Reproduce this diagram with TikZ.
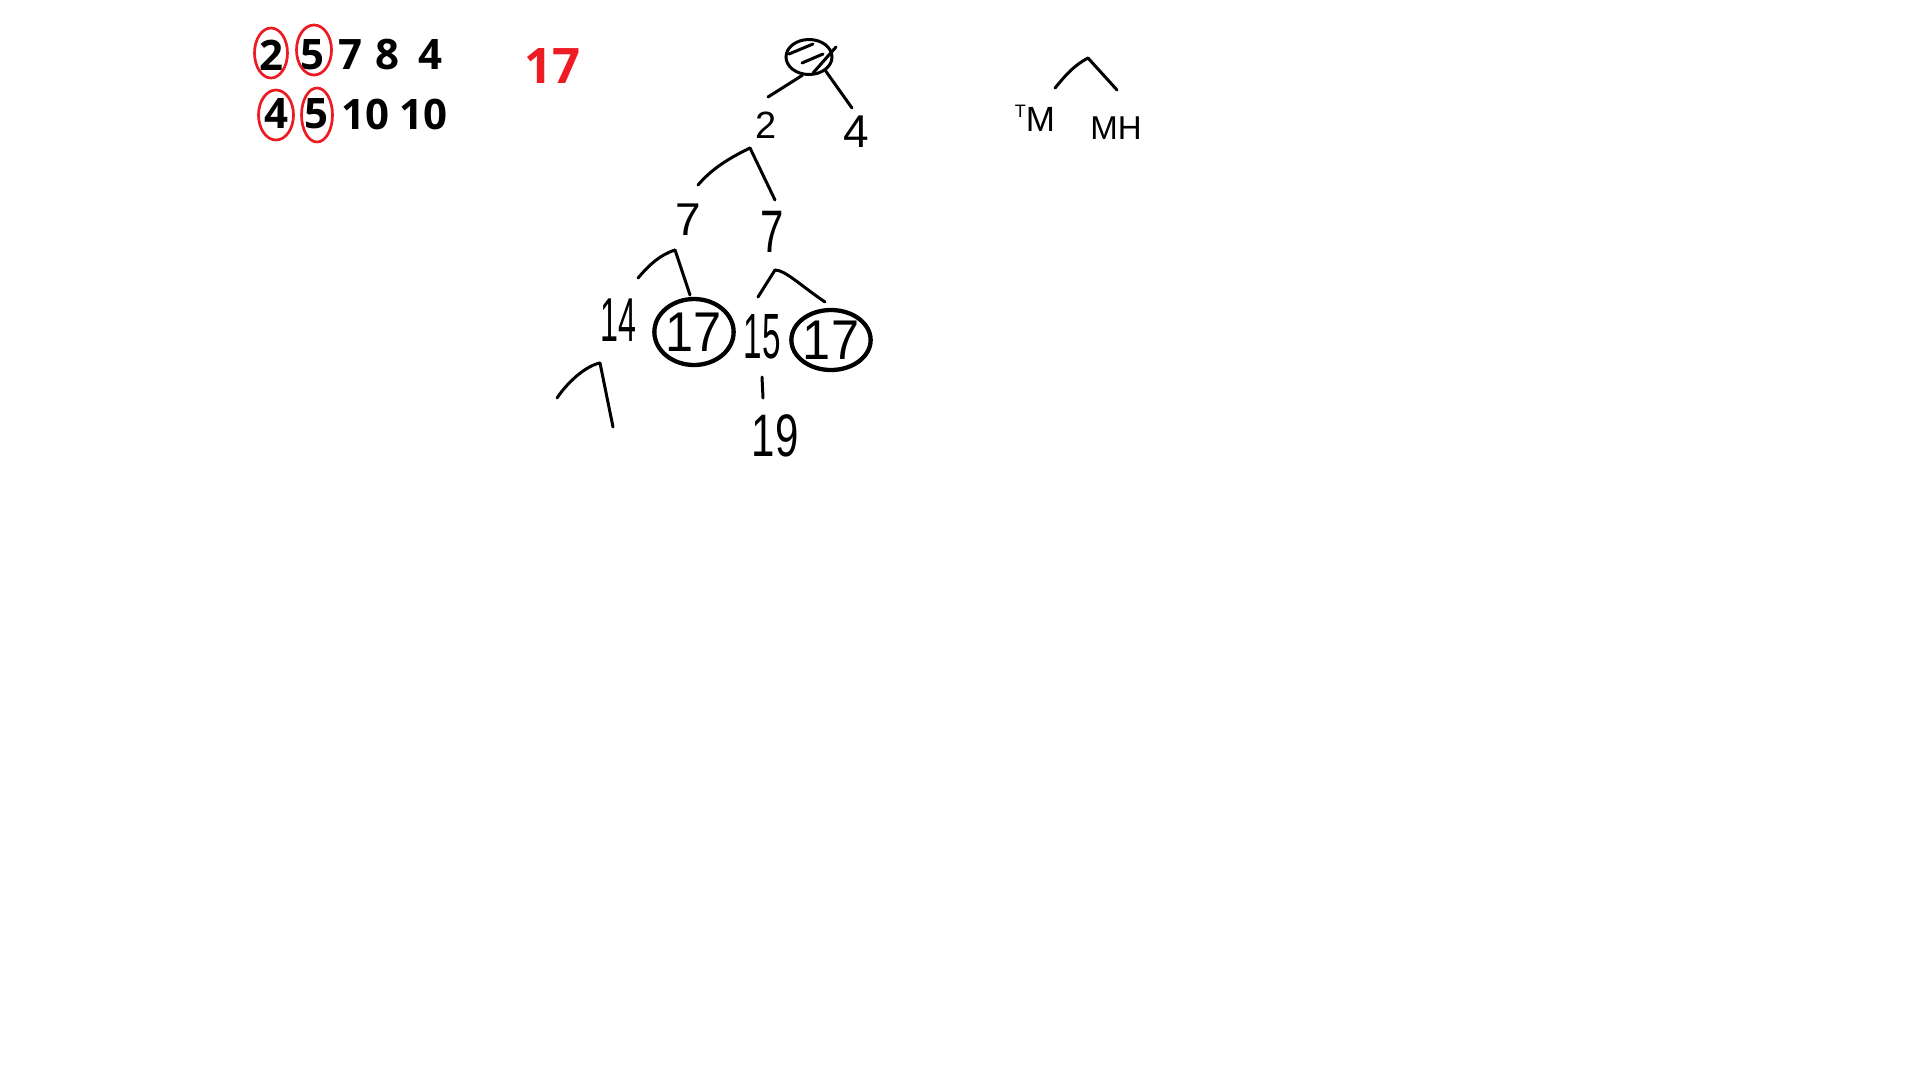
\documentclass[tikz,border=0pt]{standalone}
\usepackage{fontspec}
\usetikzlibrary{shapes.geometric}
\newfontfamily\typefont{Open Sans}
\newfontfamily\handfont{Liberation Sans}
\newfontfamily\handwide[FakeStretch=0.9]{Liberation Sans}
\newfontfamily\handmid[FakeStretch=0.7]{Liberation Sans}
\newfontfamily\handnarrow[FakeStretch=0.52]{Liberation Sans}
\definecolor{paintred}{RGB}{237,28,36}

\tikzset{
  typed/.style={font=\typefont\bfseries\fontsize{#1}{#1}\selectfont, inner sep=0pt},
  typed/.default=42,
  hand/.style 2 args={font=#1\fontsize{#2}{#2}\selectfont, inner sep=0pt},
  stroke/.style={line width=3pt, line cap=round, line join=round},
  ring/.style={draw=paintred, line width=2.7pt},
  bubble/.style={draw, ellipse, line width=4.3pt, inner sep=0pt},
}

\begin{document}
\begin{tikzpicture}[x=1pt,y=-1pt]
\useasboundingbox[fill=white] (0,0) rectangle (1920,1080);

% typed rows
\node[typed] (a1) at (271,55) {2};
\node[typed] (a2) at (312,55) {5};
\node[typed] (a3) at (350,55) {7};
\node[typed] (a4) at (387,55) {8};
\node[typed] (a5) at (430,55) {4};
\node[typed] (b1) at (276,114) {4};
\node[typed] (b2) at (316,114) {5};
\node[typed] (b3) at (365,114) {10};
\node[typed] (b4) at (423,114) {10};
\node[typed=49, text=paintred] (total) at (552,66) {17};

\draw[ring] ([shift={(0,-2)}]a1.center) ellipse [x radius=16.5pt, y radius=25pt];
\draw[ring] ([shift={(2,-5)}]a2.center) ellipse [x radius=17.5pt, y radius=25pt];
\draw[ring] ([shift={(0,1)}]b1.center) ellipse [x radius=17.5pt, y radius=25pt];
\draw[ring] ([shift={(1,1)}]b2.center) ellipse [x radius=15.5pt, y radius=27pt];

% tree
\node[bubble, line width=3pt, minimum width=46pt, minimum height=35pt] (root) at (809,57) {};
\draw[stroke] ([shift={(-20,-3)}]root.center) -- ([shift={(4,-13)}]root.center);
\draw[stroke] ([shift={(-7,6)}]root.center) -- ([shift={(14,-3)}]root.center);
\draw[stroke] ([shift={(27,-10)}]root.center) -- ([shift={(4,16)}]root.center);

\node[hand={\handfont}{38}] (n2) at (766,125) {2};
\node[hand={\handfont}{46}] (n4) at (856,132) {4};
\node[hand={\handfont}{46}] (l7) at (688,220) {7};
\node[hand={\handmid}{60}] (r7) at (772,232) {7};
\node[hand={\handnarrow}{62}] (n14) at (618,320) {14};
\node[bubble, minimum width=72pt, minimum height=66pt, hand={\handwide}{56}] (c17a) at (694,332) {17};
\node[hand={\handnarrow}{64}] (n15) at (762,337) {15};
\node[bubble, minimum width=72pt, minimum height=60pt, hand={\handwide}{56}] (c17b) at (831,340) {17};
\node[hand={\handmid}{60}] (n19) at (775,436) {19};

\coordinate (f2) at ([shift={(-16,23)}]n2.center);
\coordinate (f7l) at ([shift={(-13,30)}]l7.center);
\coordinate (f7r) at ([shift={(3,38)}]r7.center);
\coordinate (f14) at ([shift={(-18,43)}]n14.center);
\coordinate (f14l) at ([shift={(-43,35)}]f14);
\coordinate (f14r) at ([shift={(13,64)}]f14);

\draw[stroke] (root.250) -- ([shift={(2,-28)}]n2.center);
\draw[stroke] (root.-40) -- ([shift={(-4,-24)}]n4.center);
\draw[stroke] (f2) .. controls +(-25,12) and +(12,-14) .. ([shift={(10,-35)}]l7.center);
\draw[stroke] (f2) -- ([shift={(3,-32)}]r7.center);
\draw[stroke] (f7l) .. controls +(-15,5) and +(12,-14) .. ([shift={(20,-42)}]n14.center);
\draw[stroke] (f7l) -- ([shift={(-4,-37)}]c17a.center);
\draw[stroke] (f7r) -- ([shift={(-4,-40)}]n15.center);
\draw[stroke] (f7r) .. controls +(10,0) and +(-25,-17) .. ([shift={(-6,-38)}]c17b.center);
\draw[stroke] (f14) .. controls +(-15,3) and +(10,-15) .. (f14l);
\draw[stroke] (f14) -- (f14r);
\draw[stroke] ([shift={(0,40)}]n15.center) -- ([shift={(-12,-38)}]n19.center);

% side sketch
\node[hand={\handfont}{35}, anchor=south] (tm) at (1035,132) {\raisebox{14pt}{\fontsize{18}{18}\selectfont T}M};
\node[hand={\handfont}{33}, anchor=south] (mh) at (1116,140) {MH};
\coordinate (top) at (1088,58);
\draw[stroke] (top) .. controls +(-15,8) and +(10,-12) .. ([shift={(20,-44)}]tm.south);
\draw[stroke] (top) -- ([shift={(1,-50)}]mh.south);
\end{tikzpicture}
\end{document}
